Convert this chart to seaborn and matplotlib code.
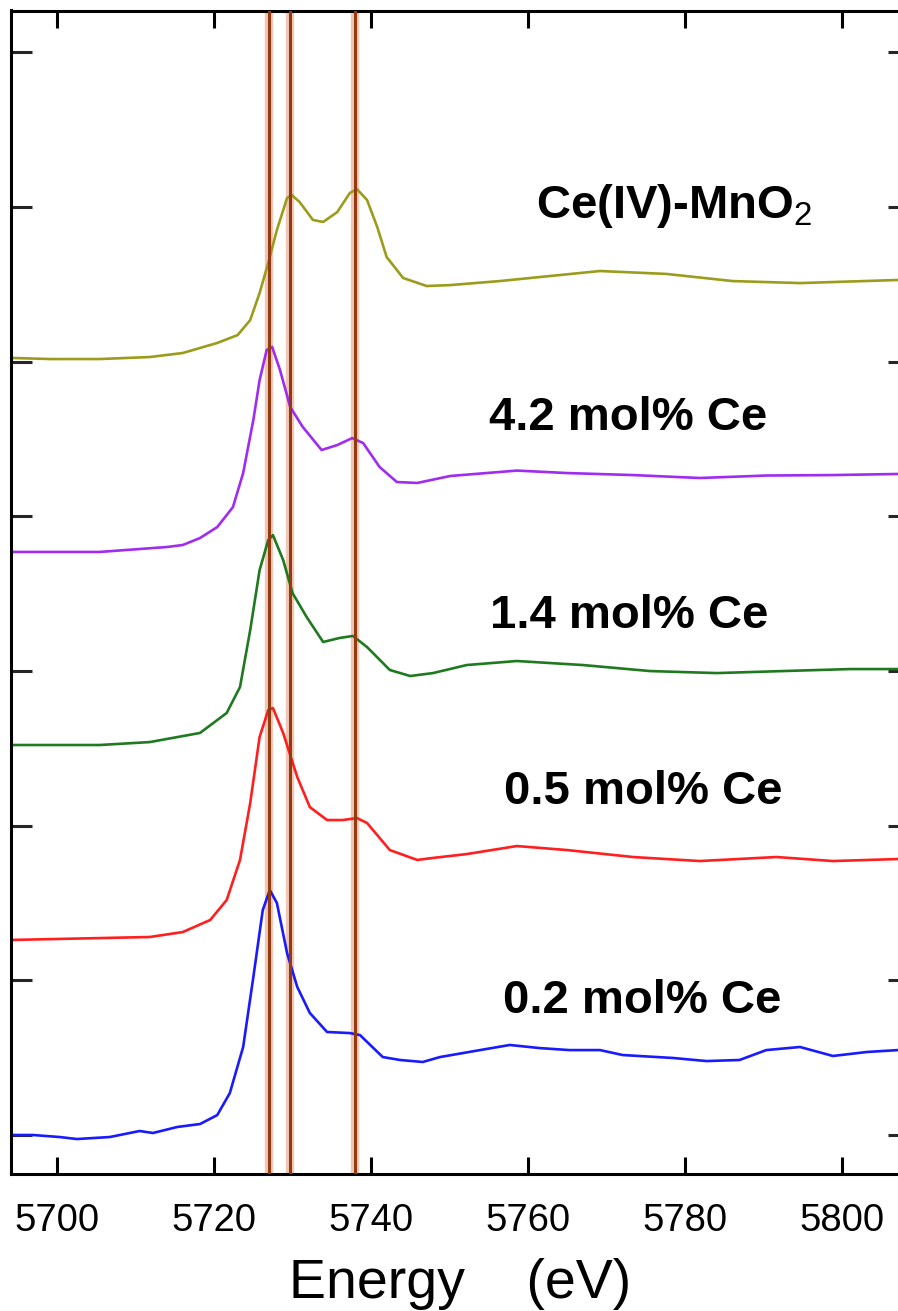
import numpy as np
import pandas as pd
import matplotlib
matplotlib.use("Agg")
import matplotlib.pyplot as plt
import seaborn as sns

# --- data (energy in eV, stacked normalised intensity) ---
e_olive = [5694.2, 5699.1, 5705.4, 5711.8, 5716.0, 5720.4, 5723.0, 5724.6, 5725.8, 5726.9,
           5728.0, 5729.3, 5729.9, 5730.9, 5732.6, 5733.9, 5735.7, 5737.3, 5738.2, 5739.5,
           5740.8, 5742.0, 5744.1, 5747.1, 5750.1, 5756.4, 5769.2, 5777.7, 5786.1, 5794.7, 5807.2]
i_olive = [5.023, 5.016, 5.016, 5.029, 5.055, 5.120, 5.171, 5.268, 5.443, 5.637,
           5.850, 6.057, 6.076, 6.031, 5.915, 5.902, 5.966, 6.089, 6.115, 6.044,
           5.869, 5.675, 5.540, 5.488, 5.494, 5.520, 5.585, 5.566, 5.520, 5.507, 5.527]

e_purple = [5694.2, 5705.4, 5714.0, 5716.0, 5718.2, 5720.4, 5722.4, 5723.7, 5725.0, 5725.8,
            5726.7, 5727.4, 5728.4, 5729.7, 5731.3, 5733.7, 5735.7, 5737.6, 5739.0, 5741.1,
            5743.3, 5745.9, 5750.1, 5758.6, 5765.0, 5773.4, 5781.9, 5790.4, 5798.9, 5807.2]
i_purple = [3.769, 3.769, 3.801, 3.814, 3.859, 3.930, 4.059, 4.279, 4.622, 4.880,
            5.074, 5.094, 4.945, 4.706, 4.577, 4.428, 4.460, 4.505, 4.473, 4.318,
            4.221, 4.215, 4.260, 4.295, 4.279, 4.266, 4.247, 4.263, 4.266, 4.273]

e_green = [5694.2, 5705.4, 5711.8, 5718.2, 5721.6, 5723.3, 5724.6, 5725.8, 5726.9, 5727.5,
           5728.8, 5730.0, 5731.8, 5733.9, 5736.0, 5737.7, 5739.5, 5742.4, 5745.0, 5747.9,
           5752.2, 5758.6, 5767.0, 5775.6, 5784.1, 5792.5, 5801.1, 5807.2]
i_green = [2.521, 2.521, 2.540, 2.599, 2.728, 2.896, 3.264, 3.652, 3.846, 3.878,
           3.717, 3.503, 3.348, 3.187, 3.213, 3.226, 3.154, 3.006, 2.967, 2.986,
           3.038, 3.064, 3.038, 2.999, 2.986, 2.999, 3.012, 3.012]

e_red = [5694.2, 5705.4, 5711.8, 5716.0, 5719.5, 5721.6, 5723.3, 5724.6, 5725.8, 5726.9,
         5727.5, 5728.8, 5730.6, 5732.2, 5734.4, 5736.4, 5738.2, 5739.5, 5742.4, 5745.9,
         5747.9, 5752.2, 5758.6, 5765.0, 5773.4, 5781.9, 5791.7, 5798.9, 5807.2]
i_red = [1.261, 1.273, 1.280, 1.312, 1.390, 1.519, 1.778, 2.146, 2.573, 2.747,
         2.760, 2.599, 2.314, 2.120, 2.036, 2.036, 2.049, 2.017, 1.842, 1.778,
         1.791, 1.816, 1.868, 1.842, 1.797, 1.771, 1.797, 1.771, 1.784]

e_blue = [5694.2, 5696.9, 5700.3, 5702.5, 5706.7, 5710.5, 5712.2, 5715.3, 5718.2, 5720.4,
          5722.0, 5723.7, 5725.0, 5726.2, 5727.1, 5728.0, 5729.3, 5730.6, 5732.2, 5734.4,
          5737.3, 5738.6, 5741.5, 5743.7, 5746.6, 5748.8, 5753.9, 5757.7, 5761.5, 5765.3,
          5769.2, 5772.1, 5778.5, 5782.8, 5787.0, 5790.4, 5794.7, 5798.9, 5803.3, 5807.2]
i_blue = [0.000, 0.000, -0.013, -0.026, -0.013, 0.026, 0.013, 0.052, 0.071, 0.129,
          0.271, 0.569, 1.021, 1.454, 1.584, 1.500, 1.176, 0.957, 0.789, 0.666,
          0.659, 0.646, 0.504, 0.485, 0.472, 0.504, 0.549, 0.582, 0.562, 0.549,
          0.549, 0.517, 0.498, 0.478, 0.485, 0.549, 0.569, 0.511, 0.537, 0.549]

samples = ["Ce(IV)-MnO$_2$", "4.2 mol% Ce", "1.4 mol% Ce", "0.5 mol% Ce", "0.2 mol% Ce"]
ref_lines = [5727.0, 5729.7, 5738.0]

# label anchors (energy, baseline)
label_x = [5778.6, 5772.8, 5772.9, 5774.7, 5774.6]
label_y = [5.93, 4.56, 3.28, 2.14, 0.79]

colors = ["#9c9c1c", "#a02cf0", "#1f7a1f", "#ff1f1f", "#1a1aff"]

energies = [e_olive, e_purple, e_green, e_red, e_blue]
intens = [i_olive, i_purple, i_green, i_red, i_blue]
df = pd.concat([pd.DataFrame({"Energy": e, "Intensity": i, "Sample": s})
                for e, i, s in zip(energies, intens, samples)], ignore_index=True)

sns.set_theme(style="ticks")
plt.rcParams["font.family"] = ["Liberation Sans", "DejaVu Sans"]
plt.rcParams["mathtext.fontset"] = "custom"
plt.rcParams["mathtext.rm"] = "Liberation Sans"
plt.rcParams["mathtext.bf"] = "Liberation Sans:bold"
plt.rcParams["lines.solid_joinstyle"] = "round"

fig = plt.figure(figsize=(8.98, 13.11), dpi=100)
ax = fig.add_axes([11 / 898, 137 / 1311, 898 / 898, 1163.5 / 1311])

for xv in ref_lines:
    ax.axvline(xv, color="#efc7b4", lw=6.0, zorder=1)
    ax.axvline(xv, color="#943a10", lw=2.2, zorder=3)

sns.lineplot(data=df, x="Energy", y="Intensity", hue="Sample", palette=colors,
             sort=False, estimator=None, lw=1.9, legend=False, ax=ax, zorder=2)

for s, lx, ly in zip(samples, label_x, label_y):
    ax.text(lx, ly, s, ha="center", va="baseline", fontsize=34, fontweight="bold",
            color="black")

ax.set_xlim(5694.1, 5808.6)
ax.set_ylim(-0.252, 7.269)
ax.set_xticks(np.arange(5700, 5801, 20))
ax.set_yticks(np.arange(0, 8))
ax.set_yticklabels([])
ax.tick_params(axis="x", direction="in", length=12, width=2.2, top=True,
               labelsize=27.5, pad=21, colors="black")
ax.tick_params(axis="y", direction="in", length=15, width=2.2, right=True,
               labelleft=False)
for sp in ax.spines.values():
    sp.set_linewidth(2.2)
    sp.set_color("black")

ax.set_xlabel("Energy    (eV)", fontsize=40, color="black")
ax.xaxis.set_label_coords(0.5, -0.0725)
ax.xaxis.label.set_va("top")
ax.set_ylabel("")

fig.savefig("out.png", dpi=100)
